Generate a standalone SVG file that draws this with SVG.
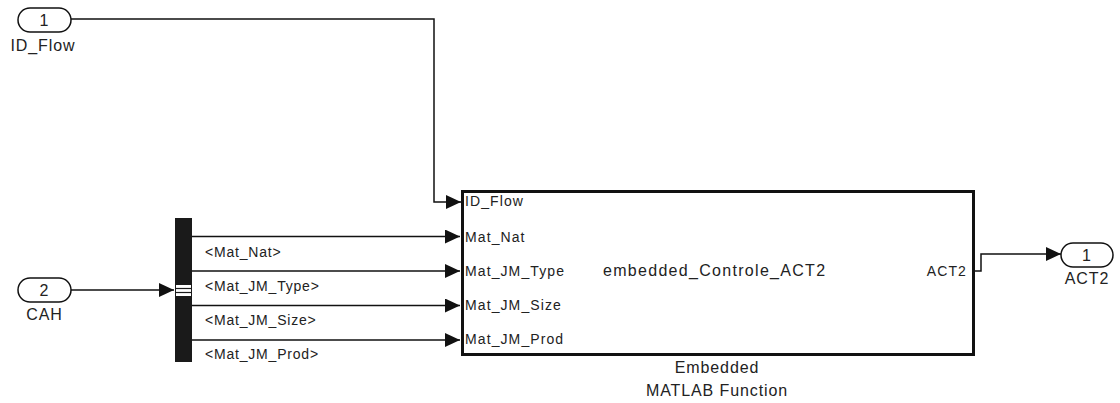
<svg xmlns="http://www.w3.org/2000/svg" width="1120" height="403" viewBox="0 0 1120 403">
<style>
text{font-family:"Liberation Sans",Arial,sans-serif;fill:#222;}
.lbl{font-size:16px;letter-spacing:0.9px;}
.port{font-size:14px;letter-spacing:1.1px;}
.sig{font-size:14px;letter-spacing:0.8px;}
.wire{fill:none;stroke:#111;stroke-width:1.5;}
.oval{fill:#fff;stroke:#111;stroke-width:1.5;}
</style>
<defs>
<marker id="arr" markerUnits="userSpaceOnUse" markerWidth="16" markerHeight="16" refX="15" refY="7" orient="auto">
<path d="M0,0 L15,7 L0,14 z" fill="#111"/>
</marker>
</defs>
<rect width="1120" height="403" fill="#fff"/>
<g id="connectors">
<polyline class="wire" points="71,19 434,19 434,202 461,202" marker-end="url(#arr)"/>
<polyline class="wire" points="71,290 174,290" marker-end="url(#arr)"/>
<polyline class="wire" points="192,236.5 460,236.5" marker-end="url(#arr)"/>
<polyline class="wire" points="192,271 460,271" marker-end="url(#arr)"/>
<polyline class="wire" points="192,305.5 460,305.5" marker-end="url(#arr)"/>
<polyline class="wire" points="192,340 460,340" marker-end="url(#arr)"/>
<polyline class="wire" points="975,271 981,271 981,254 1061,254" marker-end="url(#arr)"/>
<text class="sig" x="205" y="257">&lt;Mat_Nat&gt;</text>
<text class="sig" x="205" y="291">&lt;Mat_JM_Type&gt;</text>
<text class="sig" x="205" y="325">&lt;Mat_JM_Size&gt;</text>
<text class="sig" x="205" y="359">&lt;Mat_JM_Prod&gt;</text>
</g>
<g id="inport1">
<rect class="oval" x="18" y="8" width="53" height="24" rx="12"/>
<text class="lbl" x="44.5" y="26" text-anchor="middle">1</text>
<text class="lbl" x="43" y="51" text-anchor="middle">ID_Flow</text>
</g>
<g id="inport2">
<rect class="oval" x="18" y="278" width="53" height="24" rx="12"/>
<text class="lbl" x="44.5" y="296" text-anchor="middle">2</text>
<text class="lbl" x="44.5" y="320" text-anchor="middle">CAH</text>
</g>
<g id="busselector">
<rect x="175" y="218" width="17" height="144" fill="#1a1a1a"/>
<rect x="176" y="285" width="15" height="11" fill="#fff"/>
<line x1="176" y1="288.5" x2="191" y2="288.5" stroke="#1a1a1a" stroke-width="1.2"/>
<line x1="176" y1="292.5" x2="191" y2="292.5" stroke="#1a1a1a" stroke-width="1.2"/>
</g>
<g id="embedded">
<rect x="462.5" y="191.5" width="511" height="163" fill="#fff" stroke="#111" stroke-width="3"/>
<text class="port" x="465" y="206">ID_Flow</text>
<text class="port" x="465" y="242">Mat_Nat</text>
<text class="port" x="465" y="276">Mat_JM_Type</text>
<text class="port" x="465" y="310">Mat_JM_Size</text>
<text class="port" x="465" y="344">Mat_JM_Prod</text>
<text x="603" y="276" style="font-size:16px;letter-spacing:1.3px">embedded_Controle_ACT2</text>
<text class="port" x="967" y="276" text-anchor="end">ACT2</text>
<text class="lbl" x="717" y="373" text-anchor="middle">Embedded</text>
<text class="lbl" x="717" y="396" text-anchor="middle">MATLAB Function</text>
</g>
<g id="outport1">
<rect class="oval" x="1061" y="243" width="52" height="24" rx="12"/>
<text class="lbl" x="1087" y="261" text-anchor="middle">1</text>
<text class="lbl" x="1087" y="284" text-anchor="middle">ACT2</text>
</g>
</svg>
